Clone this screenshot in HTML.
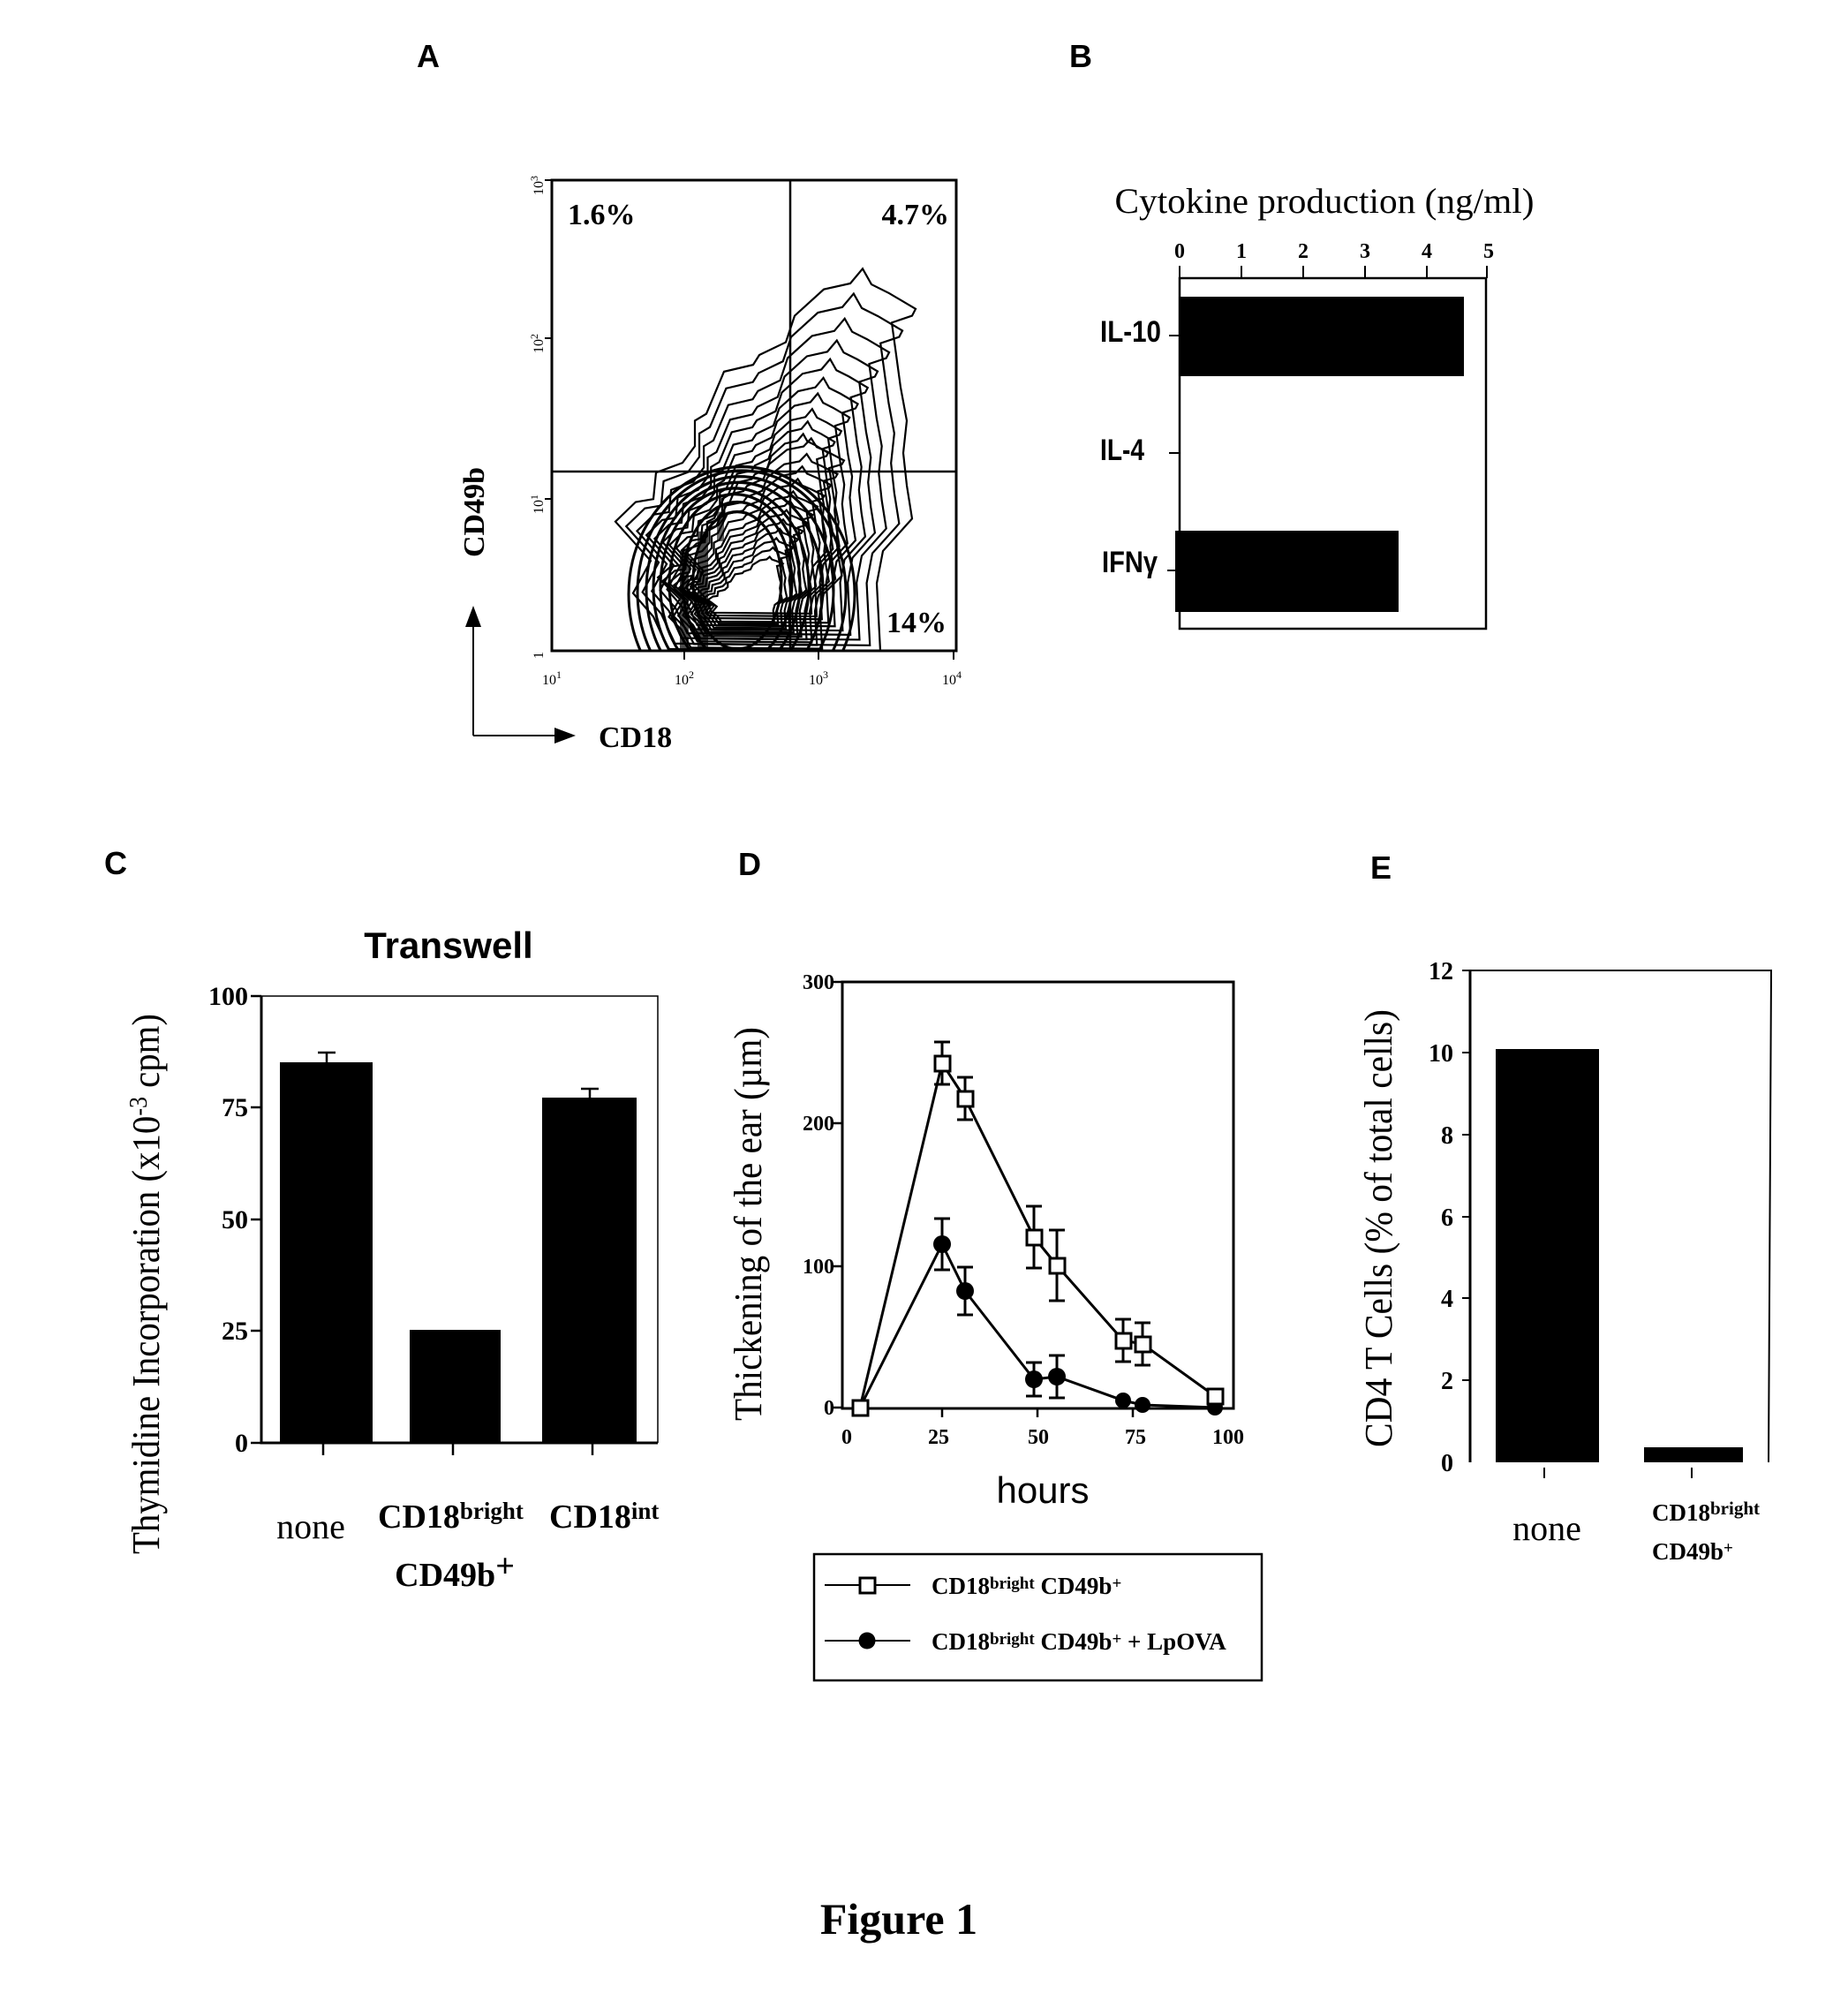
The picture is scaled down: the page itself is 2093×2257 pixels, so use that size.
<!DOCTYPE html>
<html><head><meta charset="utf-8"><style>
html,body{margin:0;padding:0;background:#fff}
svg{display:block}
.s{font-family:"Liberation Serif",serif}
.a{font-family:"Liberation Sans",sans-serif}
</style></head><body>
<svg width="2093" height="2257" viewBox="0 0 2093 2257" xmlns="http://www.w3.org/2000/svg">
<defs>
<clipPath id="ca"><rect x="625" y="202" width="458" height="480"/></clipPath>
<path id="ct" fill="none" stroke="#000" stroke-width="2.2" vector-effect="non-scaling-stroke" d="M757,680 L740,647 L717,623 L737,590 L697,550 L720,530 L740,527 L743,500 L773,490 L787,473 L787,447 L800,440 L820,397 L853,390 L860,380 L890,367 L900,340 L933,313 L963,307 L977,292 L987,308 L1007,317 L1037,333 L1033,340 L1010,347 L1020,413 L1027,447 L1023,480 L1027,513 L1033,547 L1000,580 L993,613 L997,682 Z"/>
</defs>
<g font-weight="bold" class="a" font-size="36"><text x="472" y="76">A</text><text x="1211" y="76">B</text><text x="118" y="990">C</text><text x="836" y="991">D</text><text x="1552" y="995">E</text></g>

<!-- Panel A -->
<g transform="translate(0,180) scale(1,1.11) translate(0,-180)">
<g clip-path="url(#ca)">
<use href="#ct"/>
<g transform="translate(850,610)">
<use href="#ct" transform="scale(0.92) translate(-850,-610)"/>
<use href="#ct" transform="scale(0.84) translate(-850,-610)"/>
<use href="#ct" transform="scale(0.77) translate(-850,-610)"/>
<use href="#ct" transform="scale(0.71) translate(-850,-610)"/>
<use href="#ct" transform="scale(0.65) translate(-850,-610)"/>
<use href="#ct" transform="scale(0.6) translate(-850,-610)"/>
<use href="#ct" transform="scale(0.55) translate(-850,-610)"/>
<use href="#ct" transform="scale(0.51) translate(-850,-610)"/>
<use href="#ct" transform="scale(0.47) translate(-850,-610)"/>
</g>
<g transform="translate(840,640)">
<use href="#ct" transform="scale(0.62,0.55) translate(-850,-610)"/>
<use href="#ct" transform="scale(0.58,0.5) translate(-850,-610)"/>
<use href="#ct" transform="scale(0.54,0.46) translate(-850,-610)"/>
<use href="#ct" transform="scale(0.5,0.42) translate(-850,-610)"/>
<use href="#ct" transform="scale(0.46,0.38) translate(-850,-610)"/>
<use href="#ct" transform="scale(0.43,0.35) translate(-850,-610)"/>
<use href="#ct" transform="scale(0.4,0.32) translate(-850,-610)"/>
<use href="#ct" transform="scale(0.37,0.29) translate(-850,-610)"/>
<use href="#ct" transform="scale(0.34,0.26) translate(-850,-610)"/>
<use href="#ct" transform="scale(0.31,0.23) translate(-850,-610)"/>
<use href="#ct" transform="scale(0.28,0.2) translate(-850,-610)"/>
<use href="#ct" transform="scale(0.25,0.17) translate(-850,-610)"/>
</g>
<g fill="none" stroke="#000" stroke-width="3" vector-effect="non-scaling-stroke">
<ellipse cx="835" cy="610" rx="50" ry="70"/><ellipse cx="835" cy="612" rx="62" ry="82"/><ellipse cx="832" cy="614" rx="74" ry="92"/>
<ellipse cx="832" cy="616" rx="84" ry="100"/><ellipse cx="836" cy="618" rx="96" ry="108"/><ellipse cx="838" cy="620" rx="106" ry="116"/>
<ellipse cx="840" cy="622" rx="118" ry="124"/><ellipse cx="840" cy="624" rx="128" ry="130"/>
</g>
<g fill="#000"><rect x="790" y="560" width="12" height="120" opacity="0.7"/><rect x="770" y="580" width="10" height="100" opacity="0.7"/><rect x="812" y="540" width="8" height="30" opacity="0.6"/></g>
</g>
</g>
<rect x="625" y="204" width="458" height="533" fill="none" stroke="#000" stroke-width="3"/>
<line x1="895" y1="204" x2="895" y2="737" stroke="#000" stroke-width="2.5"/>
<line x1="625" y1="534" x2="1083" y2="534" stroke="#000" stroke-width="2.5"/>
<g stroke="#000" stroke-width="2">
<line x1="617" y1="204" x2="625" y2="204"/><line x1="617" y1="383" x2="625" y2="383"/><line x1="617" y1="565" x2="625" y2="565"/>
<line x1="775" y1="737" x2="775" y2="747"/><line x1="927" y1="737" x2="927" y2="747"/><line x1="1080" y1="737" x2="1080" y2="747"/>
</g>
<g class="s" font-weight="bold" font-size="34">
<text x="643" y="254">1.6%</text><text x="1075" y="254" text-anchor="end">4.7%</text><text x="1072" y="716" text-anchor="end">14%</text>
</g>
<g class="s" font-size="16">
<text x="615" y="210" transform="rotate(-90 615 210)" text-anchor="middle">10<tspan dy="-6" font-size="12">3</tspan></text>
<text x="615" y="389" transform="rotate(-90 615 389)" text-anchor="middle">10<tspan dy="-6" font-size="12">2</tspan></text>
<text x="615" y="571" transform="rotate(-90 615 571)" text-anchor="middle">10<tspan dy="-6" font-size="12">1</tspan></text>
<text x="615" y="742" transform="rotate(-90 615 742)" text-anchor="middle">1</text>
<text x="625" y="775" text-anchor="middle">10<tspan dy="-7" font-size="12">1</tspan></text>
<text x="775" y="775" text-anchor="middle">10<tspan dy="-7" font-size="12">2</tspan></text>
<text x="927" y="775" text-anchor="middle">10<tspan dy="-7" font-size="12">3</tspan></text>
<text x="1078" y="775" text-anchor="middle">10<tspan dy="-7" font-size="12">4</tspan></text>
</g>
<text x="548" y="580" class="s" font-weight="bold" font-size="34" text-anchor="middle" transform="rotate(-90 548 580)">CD49b</text>
<line x1="536" y1="833" x2="536" y2="705" stroke="#000" stroke-width="2"/>
<polygon points="536,686 527,710 545,710" fill="#000"/>
<line x1="536" y1="833" x2="635" y2="833" stroke="#000" stroke-width="2"/>
<polygon points="652,833 628,824 628,842" fill="#000"/>
<text x="678" y="846" class="s" font-weight="bold" font-size="34">CD18</text>

<!-- Panel B -->
<text x="1500" y="241" class="s" font-size="40" text-anchor="middle" textLength="475" lengthAdjust="spacingAndGlyphs">Cytokine production (ng/ml)</text>
<g class="s" font-weight="bold" font-size="24" text-anchor="middle">
<text x="1336" y="292">0</text><text x="1406" y="292">1</text><text x="1476" y="292">2</text><text x="1546" y="292">3</text><text x="1616" y="292">4</text><text x="1686" y="292">5</text>
</g>
<g stroke="#000" stroke-width="2">
<line x1="1336" y1="301" x2="1336" y2="315"/><line x1="1406" y1="301" x2="1406" y2="315"/><line x1="1476" y1="301" x2="1476" y2="315"/><line x1="1546" y1="301" x2="1546" y2="315"/><line x1="1616" y1="301" x2="1616" y2="315"/><line x1="1684" y1="301" x2="1684" y2="315"/>
<line x1="1324" y1="380" x2="1336" y2="380"/><line x1="1324" y1="513" x2="1336" y2="513"/><line x1="1322" y1="646" x2="1336" y2="646"/>
</g>
<rect x="1336" y="315" width="347" height="397" fill="none" stroke="#000" stroke-width="2.5"/>
<rect x="1336" y="336" width="322" height="90" fill="#000"/>
<rect x="1331" y="601" width="253" height="92" fill="#000"/>
<g class="a" font-weight="bold" font-size="34" text-anchor="end">
<text x="1315" y="387" textLength="69" lengthAdjust="spacingAndGlyphs">IL-10</text>
<text x="1296" y="521" textLength="50" lengthAdjust="spacingAndGlyphs">IL-4</text>
<text x="1311" y="648" textLength="63" lengthAdjust="spacingAndGlyphs">IFNγ</text>
</g>

<!-- Panel C -->
<text x="508" y="1085" class="a" font-weight="bold" font-size="42" text-anchor="middle">Transwell</text>
<polyline points="296,1128 296,1634 745,1634" fill="none" stroke="#000" stroke-width="3"/>
<polyline points="296,1128 745,1128 745,1634" fill="none" stroke="#000" stroke-width="1.5"/>
<g stroke="#000" stroke-width="2.5">
<line x1="284" y1="1128" x2="296" y2="1128"/><line x1="284" y1="1254" x2="296" y2="1254"/><line x1="284" y1="1381" x2="296" y2="1381"/><line x1="284" y1="1507" x2="296" y2="1507"/><line x1="284" y1="1634" x2="296" y2="1634"/>
<line x1="366" y1="1634" x2="366" y2="1648"/><line x1="513" y1="1634" x2="513" y2="1648"/><line x1="671" y1="1634" x2="671" y2="1648"/>
<line x1="370" y1="1192" x2="370" y2="1203"/><line x1="360" y1="1192" x2="380" y2="1192"/>
<line x1="668" y1="1233" x2="668" y2="1243"/><line x1="658" y1="1233" x2="678" y2="1233"/>
</g>
<rect x="317" y="1203" width="105" height="431" fill="#000"/>
<rect x="464" y="1506" width="103" height="128" fill="#000"/>
<rect x="614" y="1243" width="107" height="391" fill="#000"/>
<g class="s" font-weight="bold" font-size="30" text-anchor="end">
<text x="281" y="1138">100</text><text x="281" y="1264">75</text><text x="281" y="1391">50</text><text x="281" y="1517">25</text><text x="281" y="1644">0</text>
</g>
<text x="180" y="1454" class="s" font-size="44" text-anchor="middle" transform="rotate(-90 180 1454)" textLength="612" lengthAdjust="spacingAndGlyphs">Thymidine Incorporation (x10<tspan dy="-14" font-size="28">-3</tspan><tspan dy="14"> cpm)</tspan></text>
<text x="352" y="1742" class="s" font-size="40" text-anchor="middle">none</text>
<text x="428" y="1730" class="s" font-weight="bold" font-size="38">CD18<tspan dy="-10" font-size="27">bright</tspan></text>
<text x="515" y="1796" class="s" font-weight="bold" font-size="38" text-anchor="middle">CD49b<tspan dy="-10">+</tspan></text>
<text x="622" y="1730" class="s" font-weight="bold" font-size="38">CD18<tspan dy="-10" font-size="27">int</tspan></text>

<!-- Panel D -->
<rect x="954" y="1112" width="443" height="483" fill="none" stroke="#000" stroke-width="3"/>
<g stroke="#000" stroke-width="2.5">
<line x1="944" y1="1112" x2="954" y2="1112"/><line x1="944" y1="1272" x2="954" y2="1272"/><line x1="944" y1="1434" x2="954" y2="1434"/><line x1="944" y1="1594" x2="954" y2="1594"/>
<line x1="1067" y1="1595" x2="1067" y2="1605"/><line x1="1175" y1="1595" x2="1175" y2="1605"/><line x1="1283" y1="1595" x2="1283" y2="1605"/>
</g>
<g class="s" font-weight="bold" font-size="24">
<g text-anchor="end"><text x="945" y="1120">300</text><text x="945" y="1280">200</text><text x="945" y="1442">100</text><text x="945" y="1602">0</text></g>
<g text-anchor="middle"><text x="959" y="1635">0</text><text x="1063" y="1635">25</text><text x="1176" y="1635">50</text><text x="1286" y="1635">75</text><text x="1391" y="1635">100</text></g>
</g>
<text x="862" y="1386" class="s" font-size="44" text-anchor="middle" transform="rotate(-90 862 1386)" textLength="446" lengthAdjust="spacingAndGlyphs">Thickening of the ear (µm)</text>
<text x="1181" y="1702" class="a" font-size="42" text-anchor="middle">hours</text>
<g stroke="#000" stroke-width="3" fill="none">
<path d="M1067,1180 V1228 M1058,1180 H1076 M1058,1228 H1076
M1093,1220 V1268 M1084,1220 H1102 M1084,1268 H1102
M1171,1366 V1436 M1162,1366 H1180 M1162,1436 H1180
M1197,1393 V1473 M1188,1393 H1206 M1188,1473 H1206
M1272,1494 V1542 M1263,1494 H1281 M1263,1542 H1281
M1294,1498 V1546 M1285,1498 H1303 M1285,1546 H1303"/>
<path d="M1067,1380 V1438 M1058,1380 H1076 M1058,1438 H1076
M1093,1435 V1489 M1084,1435 H1102 M1084,1489 H1102
M1171,1543 V1581 M1162,1543 H1180 M1162,1581 H1180
M1197,1535 V1583 M1188,1535 H1206 M1188,1583 H1206"/>
<polyline points="974,1594 1067,1204 1093,1244 1171,1401 1197,1433 1272,1518 1294,1522 1376,1581"/>
<polyline points="974,1594 1067,1409 1093,1462 1171,1562 1197,1559 1272,1586 1294,1591 1376,1594"/>
</g>
<g fill="#000"><circle cx="1067" cy="1409" r="10"/><circle cx="1093" cy="1462" r="10"/><circle cx="1171" cy="1562" r="10"/><circle cx="1197" cy="1559" r="10"/><circle cx="1272" cy="1586" r="9"/><circle cx="1294" cy="1591" r="9"/><circle cx="1376" cy="1594" r="9"/></g>
<g fill="#fff" stroke="#000" stroke-width="3">
<rect x="966" y="1586" width="17" height="17"/><rect x="1059" y="1196" width="17" height="17"/><rect x="1085" y="1236" width="17" height="17"/><rect x="1163" y="1393" width="17" height="17"/><rect x="1189" y="1425" width="17" height="17"/><rect x="1264" y="1510" width="17" height="17"/><rect x="1286" y="1514" width="17" height="17"/><rect x="1368" y="1573" width="17" height="17"/>
</g>
<rect x="922" y="1760" width="507" height="143" fill="none" stroke="#000" stroke-width="2.5"/>
<line x1="934" y1="1795" x2="1031" y2="1795" stroke="#000" stroke-width="2"/>
<rect x="974" y="1787" width="17" height="17" fill="#fff" stroke="#000" stroke-width="3"/>
<line x1="934" y1="1858" x2="1031" y2="1858" stroke="#000" stroke-width="2"/>
<circle cx="982" cy="1858" r="9.5" fill="#000"/>
<g class="s" font-weight="bold" font-size="27">
<text x="1055" y="1805">CD18<tspan dy="-6" font-size="19">bright</tspan><tspan dy="6">  CD49b</tspan><tspan font-size="19" dy="-6">+</tspan></text>
<text x="1055" y="1868">CD18<tspan dy="-6" font-size="19">bright</tspan><tspan dy="6">  CD49b</tspan><tspan font-size="19" dy="-6">+</tspan><tspan dy="6"> + LpOVA</tspan></text>
</g>

<!-- Panel E -->
<polyline points="1665,1099 1665,1656" fill="none" stroke="#000" stroke-width="3"/>
<polyline points="1665,1099 2006,1099 2003,1656" fill="none" stroke="#000" stroke-width="2"/>
<g stroke="#000" stroke-width="2">
<line x1="1656" y1="1099" x2="1665" y2="1099"/><line x1="1656" y1="1192" x2="1665" y2="1192"/><line x1="1656" y1="1285" x2="1665" y2="1285"/><line x1="1656" y1="1378" x2="1665" y2="1378"/><line x1="1656" y1="1470" x2="1665" y2="1470"/><line x1="1656" y1="1563" x2="1665" y2="1563"/>
<line x1="1749" y1="1662" x2="1749" y2="1674"/><line x1="1916" y1="1662" x2="1916" y2="1674"/>
</g>
<rect x="1694" y="1188" width="117" height="468" fill="#000"/>
<rect x="1862" y="1639" width="112" height="17" fill="#000"/>
<g class="s" font-weight="bold" font-size="28" text-anchor="end">
<text x="1646" y="1109">12</text><text x="1646" y="1202">10</text><text x="1646" y="1295">8</text><text x="1646" y="1388">6</text><text x="1646" y="1480">4</text><text x="1646" y="1573">2</text><text x="1646" y="1666">0</text>
</g>
<text x="1576" y="1391" class="s" font-size="44" text-anchor="middle" transform="rotate(-90 1576 1391)" textLength="496" lengthAdjust="spacingAndGlyphs">CD4 T Cells (% of total cells)</text>
<text x="1752" y="1744" class="s" font-size="40" text-anchor="middle">none</text>
<text x="1871" y="1722" class="s" font-weight="bold" font-size="27">CD18<tspan dy="-7" font-size="21">bright</tspan></text>
<text x="1871" y="1766" class="s" font-weight="bold" font-size="27">CD49b<tspan dy="-7" font-size="19">+</tspan></text>

<text x="1018" y="2190" class="s" font-weight="bold" font-size="50" text-anchor="middle">Figure 1</text>
</svg>
</body></html>
